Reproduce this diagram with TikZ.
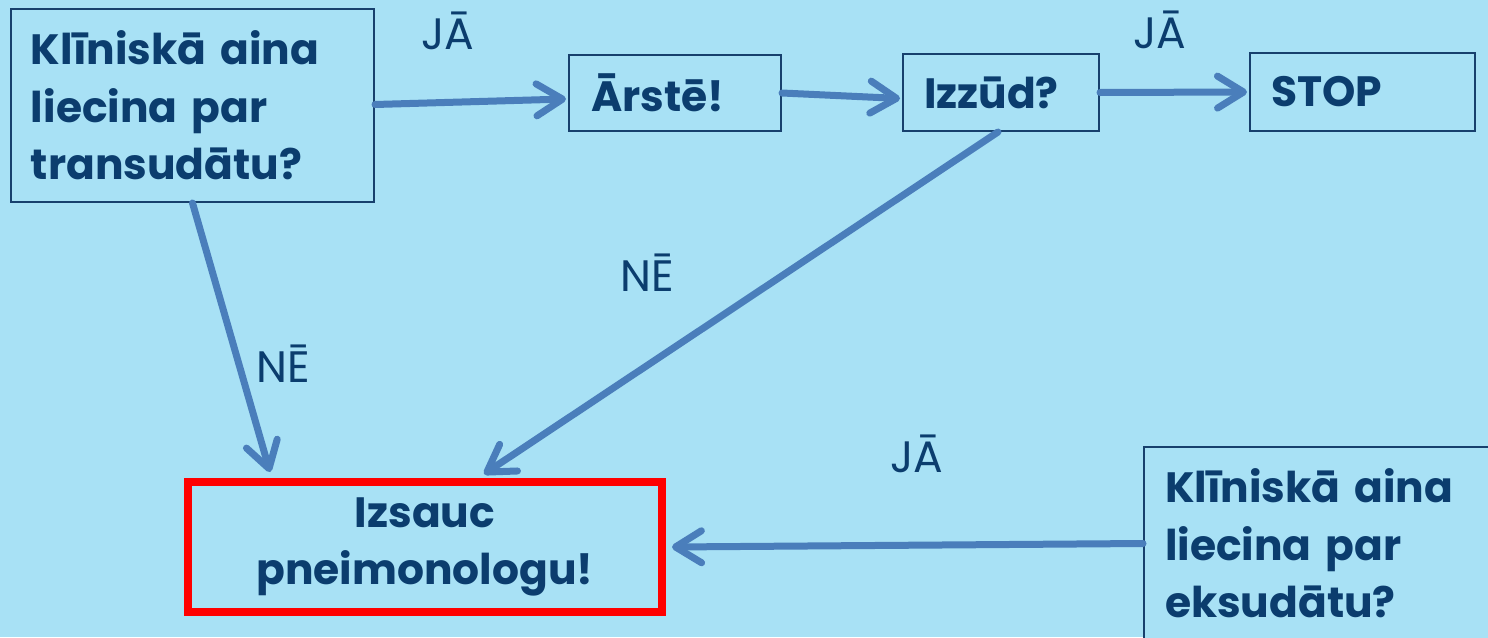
\documentclass[tikz,border=0pt]{standalone}
\usepackage{fontspec}
\setmainfont{Poppins}
\usetikzlibrary{arrows.meta,calc}
\definecolor{bg}{HTML}{A8E1F5}
\definecolor{txt}{HTML}{0B3D6E}
\definecolor{edge}{HTML}{17406D}
\definecolor{arr}{HTML}{4A7EBB}
\definecolor{redb}{HTML}{FF0000}
\tikzset{
  box/.style={draw=edge, line width=1pt, fill=bg, text=txt, rectangle,
    font=\fontsize{21.2}{28.75}\selectfont\bfseries, align=left, inner ysep=0pt},
  lbl/.style={text=txt, font=\fontsize{22}{24}\selectfont, inner sep=0pt, anchor=base west},
  conn/.style={draw=arr, line width=3.5pt, line cap=round,
    -{Straight Barb[length=13pt,width=16pt,line cap=round,round]}},
}
\begin{document}
\begin{tikzpicture}[x=0.5pt,y=-0.5pt]
\useasboundingbox (0,0) rectangle (1488,637);
\clip (0,0) rectangle (1488,637);
\fill[bg] (0,0) rectangle (1488,637);
% boxes
\node[box, anchor=north west, inner xsep=10pt, text width=161.5pt, minimum height=96.5pt] (b1) at (10,8)
  {Klīniskā aina\\liecina par\\transudātu?};
\node[box, anchor=north west, inner xsep=11pt, text width=84pt, minimum height=38pt] (arste) at (568,54) {Ārstē!};
\node[box, anchor=north west, inner xsep=10.5pt, text width=77pt, minimum height=38.5pt] (izzud) at (902,53) {Izzūd?};
\node[box, anchor=north west, inner xsep=10.5pt, text width=91.5pt, minimum height=39pt] (stop) at (1249,52) {STOP};
\node[box, draw=redb, line width=4pt, align=center, anchor=north west, inner xsep=0pt, text width=237pt, minimum height=65pt] (izsauc) at (184,478)
  {Izsauc\\pneimonologu!};
\node[box, anchor=north west, inner xsep=10.5pt, text width=160.5pt, minimum height=96.5pt] (b2) at (1143,446)
  {Klīniskā aina\\liecina par\\eksudātu?};
% labels
\node[lbl] (ja1) at (421,49) {JĀ};
\node[lbl] (ja2) at (1133,48) {JĀ};
\node[lbl] (ne1) at (620,291) {NĒ};
\node[lbl] (ne2) at (256,382) {NĒ};
\node[lbl] (ja3) at (890,472) {JĀ};
% connectors
\draw[conn] ($(b1.east)+(0,-1)$) -- ($(arste.west)+(-2,6)$);
\draw[conn] (arste.east) -- ($(izzud.west)+(-2,6)$);
\draw[conn] (izzud.east) -- ($(stop.west)+(-2,0)$);
\draw[conn] (b1.south) -- ($(izsauc.north)+(-155,-6)$);
\draw[conn] ($(izzud.south)+(-3,0)$) -- ($(izsauc.north)+(59,-4)$);
\draw[conn] (b2.west) -- ($(izsauc.east)+(6,0)$);
\end{tikzpicture}
\end{document}
